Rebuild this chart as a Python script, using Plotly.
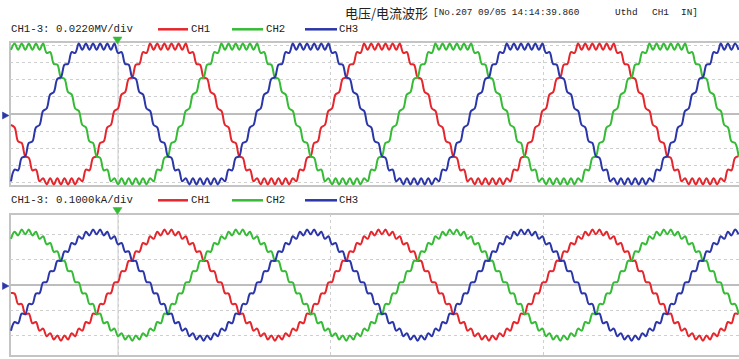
import plotly.graph_objects as go

FIG_W, FIG_H = 739, 359
SAMPLE_MS = 1.0 / 3.0      # one sample every 1/3 ms
T_START_MS = -10.0         # time of first sample relative to trigger

# ---- voltage waveforms (kV) ----
u_ch1 = [
    -14, -17, -35, -37, -54, -56, -72, -71, -86, -82, -90, -82, -90, -82, -90, -82, -90, -82, -90, -82, -86, -71, -72, -56, -54, -37, -35, -17, -14,
    4, 7, 25, 28, 45, 47, 63, 64, 79, 78, 90, 82, 90, 82, 90, 82, 90, 82, 90, 82, 90, 78, 79, 64, 63, 47, 45, 28, 25, 7, 4, -14, -17, -35, -37, -54, -56, -72, -71, -86, -82, -90, -82, -90, -82, -90, -82, -90, -82, -90, -82, -86, -71, -72, -56, -54, -37, -35, -17, -14,
    4, 7, 25, 28, 45, 47, 63, 64, 79, 78, 90, 82, 90, 82, 90, 82, 90, 82, 90, 82, 90, 78, 79, 64, 63, 47, 45, 28, 25, 7, 4, -14, -17, -35, -37, -54, -56, -72, -71, -86, -82, -90, -82, -90, -82, -90, -82, -90, -82, -90, -82, -86, -71, -72, -56, -54, -37, -35, -17, -14,
    4, 7, 25, 28, 45, 47, 63, 64, 79, 78, 90, 82, 90, 82, 90, 82, 90, 82, 90, 82, 90, 78, 79, 64, 63, 47, 45, 28, 25, 7, 4, -14, -17, -35, -37, -54, -56, -72, -71, -86, -82, -90, -82, -90, -82, -90, -82, -90, -82, -90, -82, -86, -71, -72, -56, -54,
]
u_ch2 = [
    82, 90, 82, 90, 82, 90, 82, 90, 82, 90, 78, 79, 64, 63, 47, 45, 28, 25, 7, 4, -14, -17, -35, -37, -54, -56, -72, -71, -86, -82, -90, -82, -90, -82, -90, -82, -90, -82, -90, -82, -86, -71, -72, -56, -54, -37, -35, -17, -14,
    4, 7, 25, 28, 45, 47, 63, 64, 79, 78, 90, 82, 90, 82, 90, 82, 90, 82, 90, 82, 90, 78, 79, 64, 63, 47, 45, 28, 25, 7, 4, -14, -17, -35, -37, -54, -56, -72, -71, -86, -82, -90, -82, -90, -82, -90, -82, -90, -82, -90, -82, -86, -71, -72, -56, -54, -37, -35, -17, -14,
    4, 7, 25, 28, 45, 47, 63, 64, 79, 78, 90, 82, 90, 82, 90, 82, 90, 82, 90, 82, 90, 78, 79, 64, 63, 47, 45, 28, 25, 7, 4, -14, -17, -35, -37, -54, -56, -72, -71, -86, -82, -90, -82, -90, -82, -90, -82, -90, -82, -90, -82, -86, -71, -72, -56, -54, -37, -35, -17, -14,
    4, 7, 25, 28, 45, 47, 63, 64, 79, 78, 90, 82, 90, 82, 90, 82, 90, 82, 90, 82, 90, 78, 79, 64, 63, 47, 45, 28, 25, 7, 4, -14, -17, -35, -37, -54,
]
u_ch3 = [
    -86, -71, -72, -56, -54, -37, -35, -17, -14,
    4, 7, 25, 28, 45, 47, 63, 64, 79, 78, 90, 82, 90, 82, 90, 82, 90, 82, 90, 82, 90, 78, 79, 64, 63, 47, 45, 28, 25, 7, 4, -14, -17, -35, -37, -54, -56, -72, -71, -86, -82, -90, -82, -90, -82, -90, -82, -90, -82, -90, -82, -86, -71, -72, -56, -54, -37, -35, -17, -14,
    4, 7, 25, 28, 45, 47, 63, 64, 79, 78, 90, 82, 90, 82, 90, 82, 90, 82, 90, 82, 90, 78, 79, 64, 63, 47, 45, 28, 25, 7, 4, -14, -17, -35, -37, -54, -56, -72, -71, -86, -82, -90, -82, -90, -82, -90, -82, -90, -82, -90, -82, -86, -71, -72, -56, -54, -37, -35, -17, -14,
    4, 7, 25, 28, 45, 47, 63, 64, 79, 78, 90, 82, 90, 82, 90, 82, 90, 82, 90, 82, 90, 78, 79, 64, 63, 47, 45, 28, 25, 7, 4, -14, -17, -35, -37, -54, -56, -72, -71, -86, -82, -90, -82, -90, -82, -90, -82, -90, -82, -90, -82, -86, -71, -72, -56, -54, -37, -35, -17, -14,
    4, 7, 25, 28, 45, 47, 63, 64, 79, 78, 90, 82, 90, 82, 90, 82,
]

# ---- current waveforms (A) ----
i_ch1 = [
    -32, -34, -75, -75, -115, -113, -151, -146, -180, -172, -202, -190, -215, -199, -220, -199, -215, -190, -202, -172, -180, -146, -151, -113, -115, -75, -75, -34, -32,
    10, 12, 54, 55, 95, 95, 133, 131, 166, 160, 192, 182, 210, 195, 219, 200, 219, 195, 210, 182, 192, 160, 166, 131, 133, 95, 95, 55, 54, 12, 10, -32, -34, -75, -75, -115, -113, -151, -146, -180, -172, -202, -190, -215, -199, -220, -199, -215, -190, -202, -172, -180, -146, -151, -113, -115, -75, -75, -34, -32,
    10, 12, 54, 55, 95, 95, 133, 131, 166, 160, 192, 182, 210, 195, 219, 200, 219, 195, 210, 182, 192, 160, 166, 131, 133, 95, 95, 55, 54, 12, 10, -32, -34, -75, -75, -115, -113, -151, -146, -180, -172, -202, -190, -215, -199, -220, -199, -215, -190, -202, -172, -180, -146, -151, -113, -115, -75, -75, -34, -32,
    10, 12, 54, 55, 95, 95, 133, 131, 166, 160, 192, 182, 210, 195, 219, 200, 219, 195, 210, 182, 192, 160, 166, 131, 133, 95, 95, 55, 54, 12, 10, -32, -34, -75, -75, -115, -113, -151, -146, -180, -172, -202, -190, -215, -199, -220, -199, -215, -190, -202, -172, -180, -146, -151, -113, -115,
]
i_ch2 = [
    182, 210, 195, 219, 200, 219, 195, 210, 182, 192, 160, 166, 131, 133, 95, 95, 55, 54, 12, 10, -32, -34, -75, -75, -115, -113, -151, -146, -180, -172, -202, -190, -215, -199, -220, -199, -215, -190, -202, -172, -180, -146, -151, -113, -115, -75, -75, -34, -32,
    10, 12, 54, 55, 95, 95, 133, 131, 166, 160, 192, 182, 210, 195, 219, 200, 219, 195, 210, 182, 192, 160, 166, 131, 133, 95, 95, 55, 54, 12, 10, -32, -34, -75, -75, -115, -113, -151, -146, -180, -172, -202, -190, -215, -199, -220, -199, -215, -190, -202, -172, -180, -146, -151, -113, -115, -75, -75, -34, -32,
    10, 12, 54, 55, 95, 95, 133, 131, 166, 160, 192, 182, 210, 195, 219, 200, 219, 195, 210, 182, 192, 160, 166, 131, 133, 95, 95, 55, 54, 12, 10, -32, -34, -75, -75, -115, -113, -151, -146, -180, -172, -202, -190, -215, -199, -220, -199, -215, -190, -202, -172, -180, -146, -151, -113, -115, -75, -75, -34, -32,
    10, 12, 54, 55, 95, 95, 133, 131, 166, 160, 192, 182, 210, 195, 219, 200, 219, 195, 210, 182, 192, 160, 166, 131, 133, 95, 95, 55, 54, 12, 10, -32, -34, -75, -75, -115,
]
i_ch3 = [
    -180, -146, -151, -113, -115, -75, -75, -34, -32,
    10, 12, 54, 55, 95, 95, 133, 131, 166, 160, 192, 182, 210, 195, 219, 200, 219, 195, 210, 182, 192, 160, 166, 131, 133, 95, 95, 55, 54, 12, 10, -32, -34, -75, -75, -115, -113, -151, -146, -180, -172, -202, -190, -215, -199, -220, -199, -215, -190, -202, -172, -180, -146, -151, -113, -115, -75, -75, -34, -32,
    10, 12, 54, 55, 95, 95, 133, 131, 166, 160, 192, 182, 210, 195, 219, 200, 219, 195, 210, 182, 192, 160, 166, 131, 133, 95, 95, 55, 54, 12, 10, -32, -34, -75, -75, -115, -113, -151, -146, -180, -172, -202, -190, -215, -199, -220, -199, -215, -190, -202, -172, -180, -146, -151, -113, -115, -75, -75, -34, -32,
    10, 12, 54, 55, 95, 95, 133, 131, 166, 160, 192, 182, 210, 195, 219, 200, 219, 195, 210, 182, 192, 160, 166, 131, 133, 95, 95, 55, 54, 12, 10, -32, -34, -75, -75, -115, -113, -151, -146, -180, -172, -202, -190, -215, -199, -220, -199, -215, -190, -202, -172, -180, -146, -151, -113, -115, -75, -75, -34, -32,
    10, 12, 54, 55, 95, 95, 133, 131, 166, 160, 192, 182, 210, 195, 219, 200,
]

channel_names = ["CH1", "CH2", "CH3"]
channel_colors = ["#e5262c", "#35bb35", "#2b36a8"]
title_cn = "电压/电流波形"
title_info = ["[No.207 09/05 14:14:39.860", "Uthd", "CH1", "IN]"]
scale_labels = ["CH1-3: 0.0220MV/div", "CH1-3: 0.1000kA/div"]
u_grid = [-88, -66, -44, -22, 22, 44, 66, 88]     # 22 kV/div
i_grid = [-200, -100, 100, 200]                   # 100 A/div
time_divs = [0, 19.86, 39.72]                     # ms


def times(n):
    return [T_START_MS + k * SAMPLE_MS for k in range(n)]


def px(x):
    return x / FIG_W


def py(y):
    return 1 - y / FIG_H


fig = go.Figure()
for name, col, ys in zip(channel_names, channel_colors, [u_ch1, u_ch2, u_ch3]):
    fig.add_trace(go.Scatter(x=times(len(ys)), y=ys, mode="lines", name=name,
                             line=dict(color=col, width=2, shape="spline", smoothing=1),
                             xaxis="x", yaxis="y", hoverinfo="skip", showlegend=False))
for name, col, ys in zip(channel_names, channel_colors, [i_ch1, i_ch2, i_ch3]):
    fig.add_trace(go.Scatter(x=times(len(ys)), y=ys, mode="lines", name=name,
                             line=dict(color=col, width=2, shape="spline", smoothing=1),
                             xaxis="x2", yaxis="y2", hoverinfo="skip", showlegend=False))

PX_PER_MS = 10.7
X_RANGE = [(10 - 118) / PX_PER_MS, (739 - 118) / PX_PER_MS]
GRID = "#cfcfcf"

xcommon = dict(range=X_RANGE, domain=[px(10), 1], showticklabels=False, ticks="",
               showline=False, zeroline=False, showgrid=True, gridcolor=GRID,
               griddash="dot", gridwidth=1, tickvals=time_divs, fixedrange=True)
ycommon = dict(showticklabels=False, ticks="", showline=False, zeroline=False,
               showgrid=True, gridcolor=GRID, griddash="dot", gridwidth=1, fixedrange=True)

fig.update_layout(
    width=FIG_W, height=FIG_H, autosize=False,
    margin=dict(l=0, r=0, t=0, b=0),
    paper_bgcolor="white", plot_bgcolor="white",
    showlegend=False, hovermode=False,
    xaxis=dict(**xcommon, anchor="y"),
    yaxis=dict(**ycommon, range=[-92, 92], domain=[py(186), py(42)], tickvals=u_grid, anchor="x"),
    xaxis2=dict(**xcommon, anchor="y2"),
    yaxis2=dict(**ycommon, range=[-280, 280], domain=[py(356), py(214)], tickvals=i_grid, anchor="x2"),
)

shapes = []
annotations = []
for xa, ya, top, bot in [("x", "y", 42, 186), ("x2", "y2", 214, 356)]:
    # panel frame (open at right, runs past the window edge)
    shapes.append(dict(type="rect", xref="paper", yref="paper", x0=px(10), x1=1.05,
                       y0=py(bot), y1=py(top), line=dict(color="#c4c4c4", width=2), layer="below"))
    # centre line
    shapes.append(dict(type="line", xref="paper", yref=ya, x0=px(10), x1=1.05, y0=0, y1=0,
                       line=dict(color="#bdbdbd", width=2), layer="below"))
    # trigger line
    shapes.append(dict(type="line", xref=xa, yref="paper", x0=0, x1=0, y0=py(bot), y1=py(top),
                       line=dict(color="#cacaca", width=1), layer="below"))


def tri(points, color):
    p = " L ".join(f"{px(x):.5f},{py(y):.5f}" for x, y in points)
    return dict(type="path", xref="paper", yref="paper", path=f"M {p} Z",
                fillcolor=color, line=dict(color=color, width=0.5), layer="above")


# trigger / zero-level markers
shapes.append(tri([(113, 37), (122, 37), (117.5, 44)], "#35bb35"))
shapes.append(tri([(113, 207.5), (122, 207.5), (117.5, 214.5)], "#35bb35"))
shapes.append(tri([(2.5, 112), (2.5, 119), (9, 115.5)], "#2b36a8"))
shapes.append(tri([(2.5, 282.5), (2.5, 289.5), (9, 286)], "#2b36a8"))

MONO = "Liberation Mono"
TXT = "#222222"

# legend rows
for row_y, label in [(29.3, scale_labels[0]), (200.3, scale_labels[1])]:
    annotations.append(dict(text=label, x=px(9), y=py(row_y), xref="paper", yref="paper",
                            xanchor="left", yanchor="middle", showarrow=False,
                            font=dict(family=MONO, size=10.7, color=TXT)))
    for (x0, x1, xt), name, col in zip([(158, 188, 189), (232, 263, 264), (305, 337, 337)],
                                       channel_names, channel_colors):
        shapes.append(dict(type="line", xref="paper", yref="paper", x0=px(x0), x1=px(x1),
                           y0=py(row_y), y1=py(row_y), line=dict(color=col, width=2.5)))
        annotations.append(dict(text=name, x=px(xt), y=py(row_y), xref="paper", yref="paper",
                                xanchor="left", yanchor="middle", showarrow=False,
                                font=dict(family=MONO, size=10.7, color=TXT)))

# title
annotations.append(dict(text=title_cn, x=px(343), y=py(12.5), xref="paper", yref="paper",
                        xanchor="left", yanchor="middle", showarrow=False,
                        font=dict(family="Noto Sans CJK SC", size=13, color=TXT)))
for txt, xpos in zip(title_info, [431, 613, 650, 679]):
    annotations.append(dict(text=txt, x=px(xpos), y=py(12.5), xref="paper", yref="paper",
                            xanchor="left", yanchor="middle", showarrow=False,
                            font=dict(family=MONO, size=9.4, color=TXT)))

fig.update_layout(shapes=shapes, annotations=annotations)
fig.write_html("out.html",
               config={"displayModeBar": False, "staticPlot": True},
               post_script="document.body.style.margin='0';document.body.style.padding='0';"
                           "document.documentElement.style.margin='0';")
